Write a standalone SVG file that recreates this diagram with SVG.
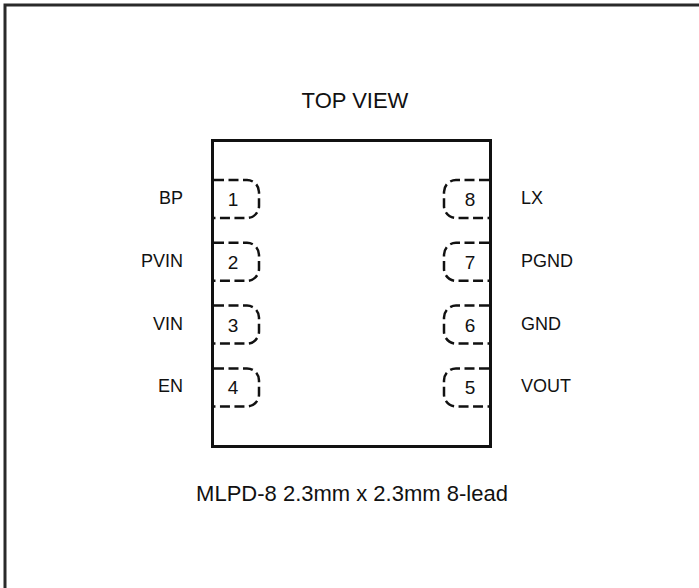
<svg xmlns="http://www.w3.org/2000/svg" width="699" height="588" viewBox="0 0 699 588">
<style>
.t{font-family:"Liberation Sans",Arial,sans-serif;fill:#111}
.lbl{font-size:18px}
.num{font-size:19px;text-anchor:middle}
.big{font-size:22px;text-anchor:middle}
.pad{fill:none;stroke:#111;stroke-width:2.5;stroke-dasharray:10,4.5}
</style>
<rect width="699" height="588" fill="#fff"/>
<path d="M5,588 V5 H699" fill="none" stroke="#2a2a2a" stroke-width="3"/>
<text class="t big" x="355" y="108">TOP VIEW</text>
<g id="package">
<rect x="212.5" y="140.5" width="278" height="306" fill="none" stroke="#111" stroke-width="3"/>
</g>
<g id="pin1">
<path class="pad" d="M214,180 H247 A12,12 0 0 1 259,192 V206 A12,12 0 0 1 247,218 H214"/>
<text class="t num" x="233" y="206">1</text>
<text class="t lbl" x="183" y="204" text-anchor="end">BP</text>
</g>
<g id="pin2">
<path class="pad" d="M214,242.8 H247 A12,12 0 0 1 259,254.8 V268.8 A12,12 0 0 1 247,280.8 H214"/>
<text class="t num" x="233" y="268.8">2</text>
<text class="t lbl" x="183" y="266.8" text-anchor="end">PVIN</text>
</g>
<g id="pin3">
<path class="pad" d="M214,305.6 H247 A12,12 0 0 1 259,317.6 V331.6 A12,12 0 0 1 247,343.6 H214"/>
<text class="t num" x="233" y="331.6">3</text>
<text class="t lbl" x="183" y="329.6" text-anchor="end">VIN</text>
</g>
<g id="pin4">
<path class="pad" d="M214,368.4 H247 A12,12 0 0 1 259,380.4 V394.4 A12,12 0 0 1 247,406.4 H214"/>
<text class="t num" x="233" y="394.4">4</text>
<text class="t lbl" x="183" y="392.4" text-anchor="end">EN</text>
</g>
<g id="pin8">
<path class="pad" d="M489,180 H456 A12,12 0 0 0 444,192 V206 A12,12 0 0 0 456,218 H489"/>
<text class="t num" x="470" y="206">8</text>
<text class="t lbl" x="521" y="204">LX</text>
</g>
<g id="pin7">
<path class="pad" d="M489,242.8 H456 A12,12 0 0 0 444,254.8 V268.8 A12,12 0 0 0 456,280.8 H489"/>
<text class="t num" x="470" y="268.8">7</text>
<text class="t lbl" x="521" y="266.8">PGND</text>
</g>
<g id="pin6">
<path class="pad" d="M489,305.6 H456 A12,12 0 0 0 444,317.6 V331.6 A12,12 0 0 0 456,343.6 H489"/>
<text class="t num" x="470" y="331.6">6</text>
<text class="t lbl" x="521" y="329.6">GND</text>
</g>
<g id="pin5">
<path class="pad" d="M489,368.4 H456 A12,12 0 0 0 444,380.4 V394.4 A12,12 0 0 0 456,406.4 H489"/>
<text class="t num" x="470" y="394.4">5</text>
<text class="t lbl" x="521" y="392.4">VOUT</text>
</g>
<g id="connectors"></g>
<text class="t big" x="352" y="501">MLPD-8 2.3mm x 2.3mm 8-lead</text>
</svg>
